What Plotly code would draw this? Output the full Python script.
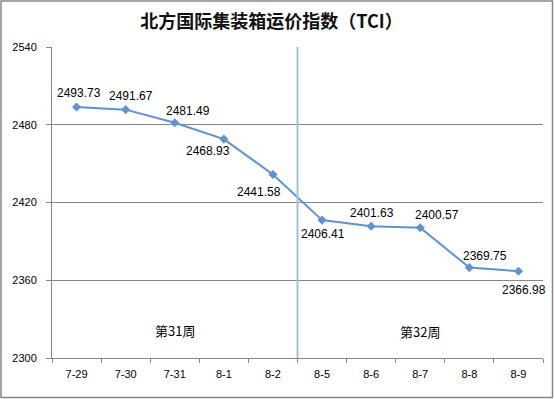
import plotly.graph_objects as go

categories = ["7-29", "7-30", "7-31", "8-1", "8-2", "8-5", "8-6", "8-7", "8-8", "8-9"]
tci_values = [2493.73, 2491.67, 2481.49, 2468.93, 2441.58, 2406.41, 2401.63, 2400.57, 2369.75, 2366.98]
week_labels = ["第31周", "第32周"]
week_label_cats = ["7-31", "8-7"]
week_label_y = [2321.5, 2320.3]
y_ticks = [2300, 2360, 2420, 2480, 2540]

# label offsets in pixels (dx, dy; dy positive = down)
label_offsets = [(2, -14), (5, -14), (13, -12), (-16, 12), (-14, 17),
                 (1, 14), (1, -13), (17, -13), (16, -12), (6, 19)]

W, H = 554, 399
ML, MR, MT, MB = 52, 11, 47, 41
PW, PH = W - ML - MR, H - MT - MB

fig = go.Figure()
fig.add_trace(go.Scatter(
    x=categories, y=tci_values, mode="lines+markers",
    line=dict(color="#5E92D2", width=2),
    marker=dict(symbol="diamond", size=7, color="#5E92D2"),
    hoverinfo="x+y", showlegend=False,
))

annotations = []
for c, v, (dx, dy) in zip(categories, tci_values, label_offsets):
    annotations.append(dict(
        x=c, y=v, xref="x", yref="y", text=f"{v:.2f}", showarrow=False,
        xshift=dx, yshift=-dy,
        font=dict(family="Liberation Sans, Arial, sans-serif", size=12, color="#000000"),
    ))
for t, c, yv in zip(week_labels, week_label_cats, week_label_y):
    annotations.append(dict(
        x=c, y=yv, xref="x", yref="y", text=t, showarrow=False,
        font=dict(family="Noto Sans CJK SC, sans-serif", size=13, color="#000000"),
    ))

shapes = [
    dict(type="line", xref="x", yref="paper", x0=4.5, x1=4.5, y0=0, y1=1,
         line=dict(color="#9DC3E6", width=2), layer="above"),
    dict(type="rect", xref="paper", yref="paper",
         x0=(1 - ML) / PW, x1=(W - 1.5 - ML) / PW,
         y0=-(MB - 1.5) / PH, y1=(H - MB - 1) / PH,
         line=dict(color="#868686", width=1.5), fillcolor="rgba(0,0,0,0)", layer="below"),
]

fig.update_layout(
    width=W, height=H,
    margin=dict(l=ML, r=MR, t=MT, b=MB),
    paper_bgcolor="white", plot_bgcolor="white",
    title=dict(text="<b>北方国际集装箱运价指数（TCI）</b>", x=0.49, xanchor="center",
               y=1 - 22 / H, yanchor="middle",
               font=dict(family="Noto Sans CJK SC, sans-serif", size=18, color="#111111")),
    annotations=annotations, shapes=shapes,
    xaxis=dict(type="category", range=[-0.5, 9.5], showgrid=False,
               showline=True, linecolor="#868686", linewidth=1,
               ticks="outside", tickson="boundaries", ticklen=4, tickcolor="#868686",
               ticklabelstandoff=6,
               tickfont=dict(family="Liberation Sans, Arial, sans-serif", size=11, color="#000000"),
               fixedrange=True),
    yaxis=dict(range=[2300, 2540], tickvals=y_ticks, showgrid=True, gridcolor="#868686", gridwidth=1,
               showline=True, linecolor="#868686", linewidth=1, zeroline=False,
               ticks="outside", ticklen=5, tickcolor="#868686",
               ticklabelstandoff=7,
               tickfont=dict(family="Liberation Sans, Arial, sans-serif", size=11, color="#000000"),
               fixedrange=True),
)

fig.write_html("out.html", config={"displayModeBar": False},
               post_script="document.body.style.margin='0';document.body.style.overflow='hidden';")
